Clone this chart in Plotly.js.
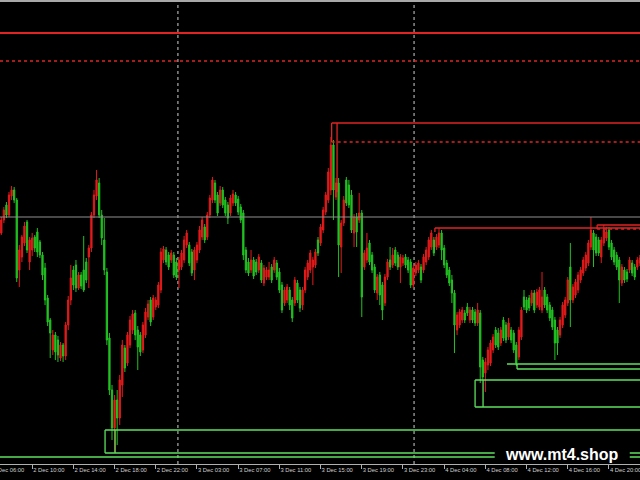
<!DOCTYPE html>
<html>
<head>
<meta charset="utf-8">
<script src="https://cdn.plot.ly/plotly-3.0.1.min.js"></script>
<style>
  html, body { margin: 0; padding: 0; background: #000; }
  #chart { width: 640px; height: 480px; }
</style>
</head>
<body>
<div id="chart"></div>
<script>
// M15 candles, price in chart points
const open = [
231,244,259,249,268,274,264,194,207,221,
242,202,214,227,232,222,209,196,166,144,
114,129,124,106,119,108,139,164,194,199,
176,189,194,202,207,216,249,268,281,249,
224,192,126,74,36,64,46,79,116,101,
119,134,151,134,129,114,129,147,164,147,
157,159,174,204,214,209,204,209,202,194,
197,204,219,219,212,194,204,214,227,237,
227,249,264,281,269,261,274,264,259,251,
261,269,265,257,251,214,202,194,204,202,
194,201,181,187,187,197,194,201,192,179,
161,164,174,164,161,181,174,159,174,187,
194,197,199,224,221,234,252,264,274,319,
267,281,217,241,284,279,269,231,247,244,
251,197,204,221,209,197,171,189,179,161,
187,204,199,214,209,197,201,207,204,202,
179,191,194,197,194,202,207,217,224,217,
219,231,216,201,194,184,171,134,139,144,
151,157,144,154,152,141,151,104,91,99,
101,114,134,131,121,144,139,127,134,131,
119,107,127,167,164,166,161,171,159,157,
154,174,167,159,154,144,134,129,139,149,
161,197,164,169,174,184,191,196,201,217,
231,227,224,207,221,226,234,221,214,209,
204,181,194,192,194,201,197,197,201
];
const close = [
244,254,249,269,274,264,186,214,227,238,
214,224,226,216,212,209,189,164,142,131,
129,112,109,119,108,139,164,186,179,176,
189,178,174,184,216,249,269,284,249,226,
194,124,74,36,64,46,84,119,96,129,
144,150,129,117,112,139,152,160,142,166,
164,179,212,215,202,197,211,189,187,204,
211,224,231,201,191,214,219,234,244,224,
249,266,284,264,251,274,259,251,246,266,
270,261,252,244,209,194,191,204,188,192,
207,184,196,194,194,184,204,187,174,154,
174,177,159,146,184,164,156,174,194,201,
211,204,212,211,237,254,269,292,319,274,
281,219,241,264,261,259,234,247,232,251,
167,211,216,202,194,174,187,169,154,187,
202,197,209,201,197,207,206,199,194,179,
196,199,201,184,207,214,224,231,211,227,
231,214,199,189,181,171,139,149,152,154,
144,151,154,144,141,154,97,87,102,114,
121,127,119,117,134,126,124,141,124,114,
101,134,154,157,154,156,171,154,172,174,
167,159,154,146,137,121,121,144,159,164,
184,164,177,182,189,194,204,209,221,234,
214,211,211,224,234,232,217,207,202,197,
184,197,184,185,204,191,187,204,206
];
const high = [
247,257,262,272,278,277,266,219,229,242,
244,227,231,229,236,224,212,201,169,146,
134,132,128,122,121,142,168,199,198,204,
192,192,228,206,219,252,274,294,286,254,
246,196,131,79,69,74,89,124,119,132,
148,154,154,138,132,142,156,164,167,169,
167,182,216,218,217,212,214,212,206,207,
214,228,234,222,215,217,222,238,247,240,
252,269,287,284,272,278,277,267,262,269,
274,272,268,260,254,217,206,214,207,205,
210,204,199,197,202,200,207,204,196,182,
177,180,177,167,187,184,177,177,197,204,
214,207,215,227,240,257,272,296,327,324,
286,286,244,268,287,284,274,250,251,271,
254,214,231,224,212,200,190,192,182,190,
205,217,216,217,212,210,209,210,207,205,
199,202,204,200,210,217,227,234,227,230,
236,234,219,204,197,189,174,152,155,157,
154,161,157,157,155,161,154,107,106,117,
124,130,137,136,137,147,142,146,137,134,
122,137,157,174,167,169,174,174,175,177,
192,177,170,162,157,147,137,147,162,167,
187,221,180,185,192,197,207,212,224,247,
234,230,227,227,239,237,237,224,217,212,
207,200,197,195,207,204,200,207,209
];
const low = [
229,241,246,247,264,261,182,177,202,218,
211,194,208,212,207,206,184,159,138,106,
109,104,102,103,102,104,134,159,174,172,
174,175,172,181,176,212,246,264,246,219,
189,119,69,24,12,19,39,67,92,98,
116,130,124,94,108,111,126,144,138,144,
154,156,171,201,199,194,201,186,184,176,
194,201,216,198,188,184,201,211,224,221,
224,246,261,261,248,258,256,248,240,248,
258,258,249,241,204,191,188,191,185,189,
191,181,178,184,184,181,191,184,171,151,
158,161,154,142,158,161,152,154,171,184,
191,179,196,208,218,231,249,261,269,244,
264,187,191,238,258,256,231,217,217,241,
147,194,201,199,191,171,164,159,144,158,
184,194,196,198,194,181,198,196,191,176,
176,188,191,181,191,199,204,214,208,214,
216,204,196,186,178,161,111,129,136,141,
141,148,141,141,138,138,81,84,72,94,
98,111,116,114,118,123,121,124,121,111,
98,104,124,154,151,153,158,151,156,154,
151,156,151,143,134,104,109,126,136,146,
158,137,161,166,171,181,188,193,198,214,
197,208,208,201,218,223,214,204,199,194,
161,178,181,182,191,188,184,194,198
];

// time axis (bar index -> label)
const tickIndex = [12,28,44,60,76,92,108,124,140,156,172,188,204,220,236];
const tickText = ['2 Dec 10:00','2 Dec 14:00','2 Dec 18:00','2 Dec 22:00','3 Dec 03:00','3 Dec 07:00',
  '3 Dec 11:00','3 Dec 15:00','3 Dec 19:00','3 Dec 23:00','4 Dec 04:00','4 Dec 08:00',
  '4 Dec 12:00','4 Dec 16:00','4 Dec 20:00'];
const leadTickIndex = [-4];
const leadTickText = ['2 Dec 06:00'];
const daySeparators = [68.6, 160.3];

// horizontal levels (price)
const redSolidLevels = [431];
const redDottedLevels = [403];
const greyLevels = [247];
const greenLevels = [7];

// supply zones (red), from start bar to the right edge
const redZoneStart = [128.3, 231.4];
const redZoneTop = [341, 239];
const redZoneDash = [322, 235];
const redWallBar = [130.4];
const redWallTop = [341];
const redWallLow = [272];
const redShelfStart = [168.4];
const redShelfLevel = [236];
const redShelfLow = [232];

// demand zones (green)
const greenZoneStart = [40.3, 184.0];
const greenZoneInner = [44.2, 187.1];
const greenZoneTop = [34, 84];
const greenZoneBottom = [11, 57];
const greenShelfStart = [196.4];
const greenShelfStep = [200.3];
const greenShelfTop = [100];
const greenShelfLow = [95];

const xMin = -0.5, xMax = 248.05, xEnd = 400;
const RED = '#e02424', GREEN = '#5ee05e', GREY = '#909090';
const bars = open.map((_, i) => i);

const shapes = [];
const seg = (x0, x1, y0, y1, color, dash, w) =>
  shapes.push({type: 'line', xref: 'x', yref: 'y', x0, x1, y0, y1,
    line: {color, width: w || 1.3, dash: dash || 'solid'}, layer: 'above'});

daySeparators.forEach(d => shapes.push({type: 'line', xref: 'x', yref: 'paper', x0: d, x1: d, y0: 0, y1: 1,
  line: {color: '#d0d0d0', width: 1, dash: 'dot'}, layer: 'below'}));
greyLevels.forEach(v => shapes.push({type: 'line', xref: 'paper', yref: 'y', x0: 0, x1: 1, y0: v, y1: v,
  line: {color: GREY, width: 1.2}, layer: 'above'}));
redSolidLevels.forEach(v => shapes.push({type: 'line', xref: 'paper', yref: 'y', x0: 0, x1: 1, y0: v, y1: v,
  line: {color: RED, width: 1.8}, layer: 'above'}));
redDottedLevels.forEach(v => shapes.push({type: 'line', xref: 'paper', yref: 'y', x0: 0, x1: 1, y0: v, y1: v,
  line: {color: RED, width: 1.5, dash: 'dot'}, layer: 'above'}));
greenLevels.forEach(v => shapes.push({type: 'line', xref: 'paper', yref: 'y', x0: 0, x1: 1, y0: v, y1: v,
  line: {color: GREEN, width: 1.3}, layer: 'above'}));

redZoneStart.forEach((s, k) => {
  seg(s, xEnd, redZoneTop[k], redZoneTop[k], RED);
  seg(s, xEnd, redZoneDash[k], redZoneDash[k], RED, 'dot');
  seg(s, s, redZoneTop[k], redZoneDash[k], RED);
});
redWallBar.forEach((b, k) => seg(b, b, redWallTop[k], redWallLow[k], RED));
redShelfStart.forEach((s, k) => {
  seg(s, xEnd, redShelfLevel[k], redShelfLevel[k], RED);
  seg(s, s, redShelfLevel[k], redShelfLow[k], RED);
});

greenZoneStart.forEach((s, k) => {
  seg(s, xEnd, greenZoneTop[k], greenZoneTop[k], GREEN);
  seg(s, xEnd, greenZoneBottom[k], greenZoneBottom[k], GREEN);
  seg(s, s, greenZoneTop[k], greenZoneBottom[k], GREEN);
  seg(greenZoneInner[k], greenZoneInner[k], greenZoneTop[k], greenZoneBottom[k], GREEN);
});
greenShelfStart.forEach((s, k) => {
  seg(s, xEnd, greenShelfTop[k], greenShelfTop[k], GREEN);
  seg(greenShelfStep[k], xEnd, greenShelfLow[k], greenShelfLow[k], GREEN);
  seg(greenShelfStep[k], greenShelfStep[k], greenShelfTop[k], greenShelfLow[k], GREEN);
});

// top border and watermark backing
shapes.push({type: 'line', xref: 'paper', yref: 'paper', x0: 0, x1: 1, y0: 0.998, y1: 0.998,
  line: {color: '#a8a8a8', width: 2}, layer: 'above'});
shapes.push({type: 'rect', xref: 'paper', yref: 'paper', x0: 0.773, x1: 0.984, y0: 0.002, y1: 0.043,
  fillcolor: '#000', line: {width: 0}, layer: 'above'});

const trace = {
  type: 'candlestick', x: bars, open, high, low, close,
  increasing: {line: {color: '#e41b1b', width: 1}, fillcolor: '#e41b1b'},
  decreasing: {line: {color: '#22c222', width: 1}, fillcolor: '#22c222'},
  whiskerwidth: 0, hoverinfo: 'skip', showlegend: false
};

const tickFont = {family: 'Liberation Sans, Arial, sans-serif', size: 5.8, color: '#cfcfcf'};
const layout = {
  width: 640, height: 480,
  margin: {l: 0, r: 0, t: 0, b: 16, pad: 0},
  paper_bgcolor: '#000', plot_bgcolor: '#000',
  showlegend: false,
  xaxis: {
    range: [xMin, xMax], rangeslider: {visible: false},
    tickvals: tickIndex, ticktext: tickText, ticklabelposition: 'outside right',
    ticklabeloverflow: 'allow', tickangle: 0, ticks: 'outside', ticklen: 4, tickcolor: '#b0b0b0',
    tickfont: tickFont,
    showline: true, linecolor: '#b0b0b0', linewidth: 1,
    showgrid: false, zeroline: false, fixedrange: true
  },
  yaxis: {range: [0, 464], visible: false, showgrid: false, zeroline: false, fixedrange: true},
  shapes,
  annotations: [
    {xref: 'paper', yref: 'paper', x: (leadTickIndex[0] - xMin) / (xMax - xMin), y: -0.003,
     xanchor: 'left', yanchor: 'top', showarrow: false, text: leadTickText[0], font: tickFont},
    {xref: 'paper', yref: 'paper', x: 0.878, y: 0.021, xanchor: 'center', yanchor: 'middle',
     showarrow: false, text: '<b>www.mt4.shop</b>',
     font: {family: 'Liberation Sans, Arial, sans-serif', size: 16, color: '#ffffff'}}
  ]
};

Plotly.newPlot('chart', [trace], layout, {staticPlot: true, displayModeBar: false});
</script>
</body>
</html>
